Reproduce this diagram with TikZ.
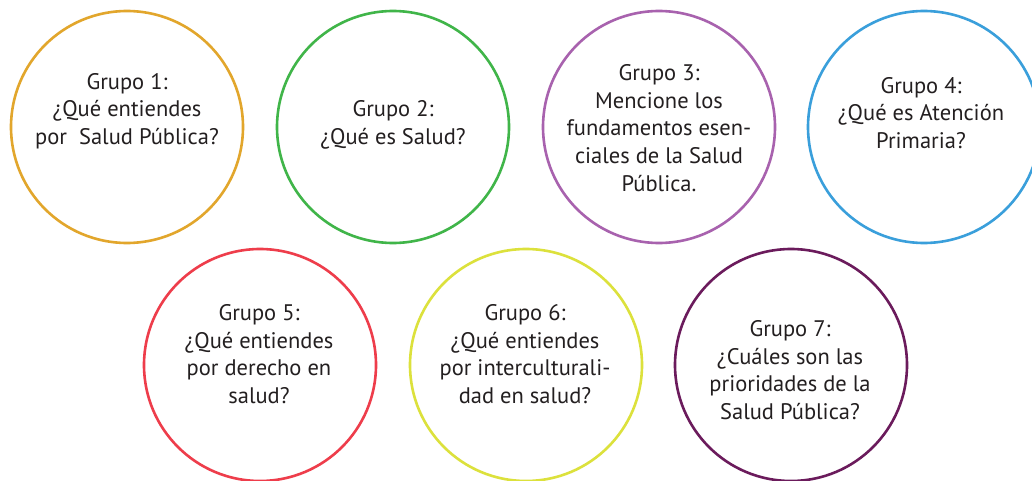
\documentclass[tikz,border=0pt]{standalone}
\usepackage{fontspec}
\setmainfont{PT Sans}
\definecolor{gold}{HTML}{E2A62C}
\definecolor{verde}{HTML}{40B549}
\definecolor{lila}{HTML}{A862AE}
\definecolor{azul}{HTML}{3A9FDB}
\definecolor{rojo}{HTML}{EE3D4B}
\definecolor{limon}{HTML}{DCE13C}
\definecolor{vino}{HTML}{6B1B5C}
\definecolor{tinta}{HTML}{231F20}
\usetikzlibrary{positioning}

\begin{document}
\begin{tikzpicture}[x=1pt, y=-1pt,
  grupo/.style={draw=#1, line width=2.6pt, circle, minimum size=232pt, inner sep=0pt},
  gtext/.style={font=\fontsize{22.5}{27.7}\selectfont, text=tinta, align=center},
]
\useasboundingbox[fill=white] (0,0) rectangle (1032,481);
\node[grupo=gold] (g1) at (127,127) {};
\node[grupo=verde] (g2) at (393,127) {};
\node[grupo=lila] (g3) at (659,127) {};
\node[grupo=azul] (g4) at (924,127) {};
\node[grupo=rojo] (g5) at (260,365) {};
\node[grupo=limon] (g6) at (526,365) {};
\node[grupo=vino] (g7) at (791,365) {};

\node[gtext] (t1) at (127,111) {Grupo 1:\\¿Qué entiendes\\por~ Salud Pública?};
\node[gtext] (t2) at (393,125) {Grupo 2:\\¿Qué es Salud?};
\node[gtext] (t3) at (659,128) {Grupo 3:\\Mencione los\\fundamentos esen-\\ciales de la Salud\\Pública.};
\node[gtext] (t4) at (921,113) {Grupo 4:\\¿Qué es Atención\\Primaria?};
\node[gtext] (t5) at (259,354) {Grupo 5:\\¿Qué entiendes\\por derecho en\\salud?};
\node[gtext] (t6) at (525,354) {Grupo 6:\\¿Qué entiendes\\por interculturali-\\dad en salud?};
\node[gtext] (t7) at (790,370) {Grupo 7:\\¿Cuáles son las\\prioridades de la\\Salud Pública?};
\end{tikzpicture}
\end{document}
